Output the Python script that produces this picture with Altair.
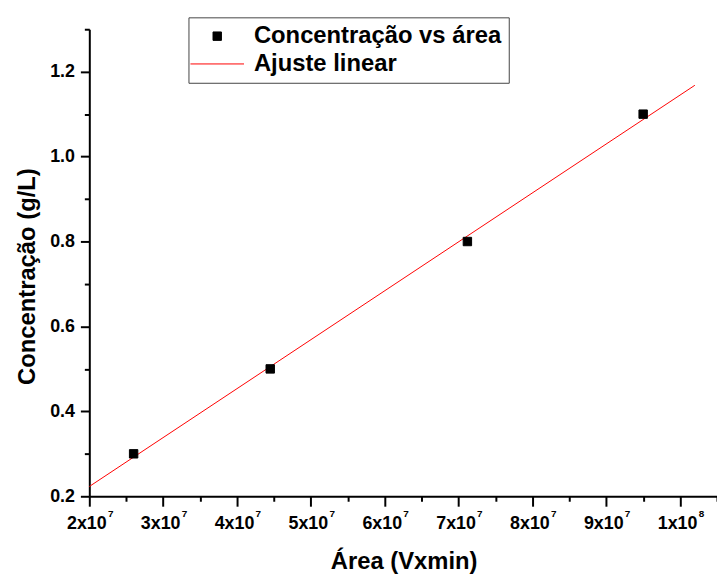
import altair as alt
import pandas as pd

# Data
area = [2.6e7, 4.45e7, 7.12e7, 9.5e7]
conc = [0.3, 0.5, 0.8, 1.1]
fit_x = [2.0e7, 1.02e8]
fit_y = [0.223, 1.168]

S_PTS = "Concentração vs área"
S_FIT = "Ajuste linear"

x_ticks = [2.0e7 + 0.5e7 * i for i in range(18)]
x_major = [2.0e7 + 1.0e7 * i for i in range(9)]
y_ticks = [round(0.2 + 0.1 * i, 1) for i in range(12)]

pts = pd.DataFrame({"x": area, "y": conc, "s": [S_PTS] * len(area)})
fit = pd.DataFrame({"x": fit_x, "y": fit_y, "s": [S_FIT] * len(fit_x)})

FONT = "Liberation Sans"
DOM = [S_PTS, S_FIT]
X_SCALE = alt.Scale(domain=[2.0e7, 1.05e8], nice=False, zero=False)
Y_SCALE = alt.Scale(domain=[0.2, 1.3], nice=False, zero=False)

# main x axis: mantissa part of the labels
x_main = alt.X(
    "x:Q",
    scale=X_SCALE,
    axis=alt.Axis(
        orient="bottom",
        values=x_ticks,
        title="Área (Vxmin)",
        labelExpr="datum.value % 10000000 == 0 ? (datum.value >= 100000000 ? '1x10' : format(datum.value / 10000000, 'd') + 'x10') : ''",
        tickSize={"condition": {"test": "datum.value % 10000000 == 0", "value": 10}, "value": 5},
        labelPadding=9,
        labelOffset=-3,
        labelFlush=False,
        labelOverlap=False,
        titleX=317,
        titleY=73,
        titleBaseline="alphabetic",
        titleFontSize=24,
    ),
)
# second x axis: exponents (superscript)
x_exp = alt.X(
    "x:Q",
    scale=X_SCALE,
    axis=alt.Axis(
        orient="bottom",
        values=x_major,
        title=None,
        domain=False,
        tickColor="transparent",
        tickSize=10,
        labelExpr="datum.value >= 100000000 ? '8' : '7'",
        labelFontSize=10,
        labelPadding=2,
        labelOffset=21,
        labelFlush=False,
        labelOverlap=False,
    ),
)
y_def = dict(
    field="y",
    type="quantitative",
    scale=Y_SCALE,
    axis=alt.Axis(
        values=y_ticks,
        title="Concentração (g/L)",
        labelExpr="round(datum.value * 10) % 2 == 0 ? format(datum.value, '.1f') : ''",
        tickSize={"condition": {"test": "round(datum.value * 10) % 2 == 0", "value": 9}, "value": 5},
        labelPadding=6,
        labelFlush=False,
        titleX=-62,
        titleY=249,
        titleBaseline="middle",
        titleFontSize=24,
    ),
)

leg = alt.Legend(
    title=None,
    orient="none",
    legendX=100,
    legendY=-12,
    strokeColor="#444444",
    padding=7,
    symbolOffset=10,
    labelOffset=25,
    rowPadding=4,
    symbolStrokeWidth=1,
    symbolOpacity=1,
    labelFont=FONT,
    labelFontSize=24,
    labelFontWeight="bold",
    labelColor="#000000",
    labelLimit=400,
)

points = alt.Chart(pts).mark_point(filled=False, opacity=1, strokeWidth=1).encode(
    x=x_main,
    y=alt.Y(**y_def),
    color=alt.Color("s:O", scale=alt.Scale(domain=DOM, range=["#000000", "#FF0000"]), legend=leg),
    fill=alt.Fill("s:O", scale=alt.Scale(domain=DOM, range=["#000000", "#FF0000"]), legend=leg),
    shape=alt.Shape("s:O", scale=alt.Scale(domain=DOM, range=["square", "M-3,0H3"]), legend=leg),
    size=alt.Size("s:O", scale=alt.Scale(domain=DOM, range=[72, 324]), legend=leg),
)

line = alt.Chart(fit).mark_line(color="#FF0000", strokeWidth=1).encode(
    x=x_exp,
    y=alt.Y(**y_def),
)

chart = (
    alt.layer(line, points)
    .resolve_axis(x="independent")
    .properties(
        width=633,
        height=471,
        autosize=alt.AutoSizeParams(type="none"),
        padding={"left": 82, "top": 19, "right": 0, "bottom": 80},
        background="white",
    )
    .configure_view(stroke=None)
    .configure_axis(
        domainColor="#000000",
        domainWidth=2,
        tickColor="#000000",
        tickWidth=2,
        grid=False,
        labelFont=FONT,
        labelFontSize=18,
        labelFontWeight="bold",
        labelColor="#000000",
        titleFont=FONT,
        titleFontSize=24,
        titleFontWeight="bold",
        titleColor="#000000",
    )
)

chart.save("out.html", embed_options={"renderer": "svg", "actions": False})
